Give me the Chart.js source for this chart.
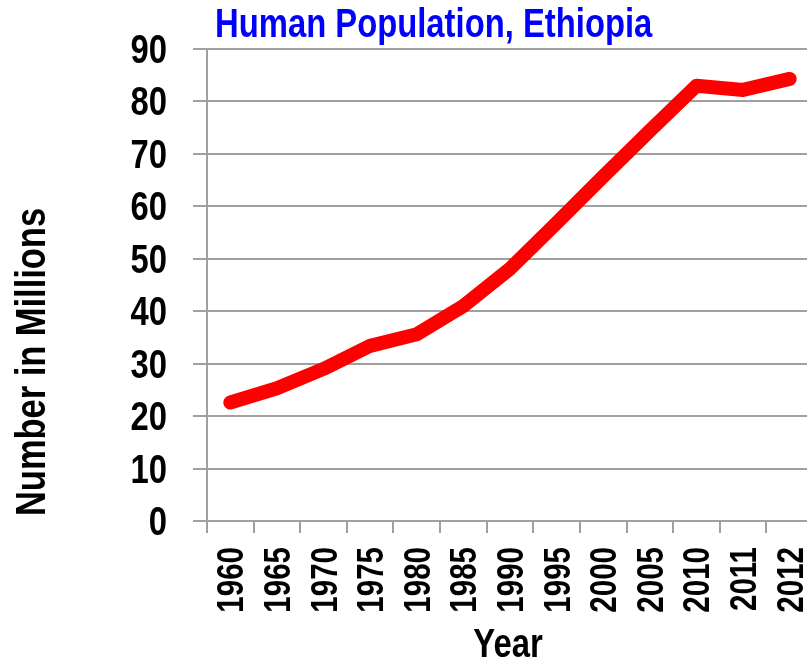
<!DOCTYPE html>
<html>
<head>
<meta charset="utf-8">
<script src="https://cdn.jsdelivr.net/npm/chart.js@4/dist/chart.umd.min.js"></script>
<style>
  html, body { margin: 0; padding: 0; background: #fff; overflow: hidden; }
  #wrap { position: relative; width: 813px; height: 664px; }
</style>
</head>
<body>
<div id="wrap"><canvas id="popChart"></canvas></div>
<script>
// Ethiopia population, millions
const years = ["1960", "1965", "1970", "1975", "1980", "1985", "1990", "1995", "2000", "2005", "2010", "2011", "2012"];
const population = [22.6, 25.3, 29.0, 33.4, 35.6, 41.0, 48.1, 56.8, 65.7, 74.4, 83.0, 82.2, 84.3];
const yTicks = [0, 10, 20, 30, 40, 50, 60, 70, 80, 90];

const chartTitle = "Human Population, Ethiopia";
const xTitle = "Year";
const yTitle = "Number in Millions";

// no narrow face installed, so squeeze Liberation Sans Bold sideways instead
const FONT = "'Liberation Sans', Arial, sans-serif";
const SQUEEZE = 0.82;

function narrowText(ctx, text, x, y, opts) {
  ctx.save();
  ctx.translate(x, y);
  if (opts.rotate) ctx.rotate(-Math.PI / 2);
  ctx.scale(SQUEEZE, 1);
  ctx.font = "bold " + opts.size + "px " + FONT;
  ctx.fillStyle = opts.color || "#000";
  ctx.textAlign = opts.align || "left";
  ctx.textBaseline = "alphabetic";
  ctx.fillText(text, 0, 0);
  ctx.restore();
}

const labelPlugin = {
  id: "narrowLabels",
  afterDraw(chart) {
    const ctx = chart.ctx;
    const xs = chart.scales.x;
    const ys = chart.scales.y;

    narrowText(ctx, chartTitle, 215, 37, { size: 40, color: "#0000ff" });

    ys.ticks.forEach(t => {
      narrowText(ctx, String(t.value), 167, ys.getPixelForValue(t.value) + 14, { size: 40, align: "right" });
    });

    years.forEach((yr, i) => {
      narrowText(ctx, yr, xs.getPixelForValue(i) + 13, 547, { size: 36, align: "right", rotate: true });
    });

    narrowText(ctx, xTitle, (chart.chartArea.left + chart.chartArea.right) / 2 - 2, 657, { size: 40, align: "center" });
    narrowText(ctx, yTitle, 45, 362, { size: 42, align: "center", rotate: true });
  }
};

const ctx1 = document.getElementById("popChart").getContext("2d");
const myChart1 = new Chart(ctx1, {
  type: "line",
  data: {
    labels: years,
    datasets: [{
      label: "Population",
      data: population,
      borderColor: "#ff0000",
      borderWidth: 14,
      borderCapStyle: "round",
      borderJoinStyle: "round",
      pointRadius: 0,
      tension: 0,
      fill: false
    }]
  },
  options: {
    responsive: true,
    maintainAspectRatio: false,
    animation: false,
    layout: { padding: { top: 49, right: 0, left: 0, bottom: 0 } },
    plugins: {
      legend: { display: false },
      tooltip: { enabled: false }
    },
    scales: {
      x: {
        offset: true,
        afterFit(scale) { scale.height = 143; },
        grid: {
          offset: true,
          drawOnChartArea: false,
          color: "#a0a0a0",
          lineWidth: 2,
          tickLength: 12
        },
        border: { color: "#a0a0a0", width: 2 },
        ticks: { display: false, autoSkip: false }
      },
      y: {
        min: 0,
        max: 90,
        afterBuildTicks(scale) {
          scale.ticks = yTicks.map(v => ({ value: v }));
        },
        afterFit(scale) { scale.width = 207; },
        grid: {
          color: "#a0a0a0",
          lineWidth: 2,
          tickLength: 14
        },
        border: { color: "#a0a0a0", width: 2 },
        ticks: { display: false }
      }
    }
  },
  plugins: [labelPlugin]
});
</script>
</body>
</html>
